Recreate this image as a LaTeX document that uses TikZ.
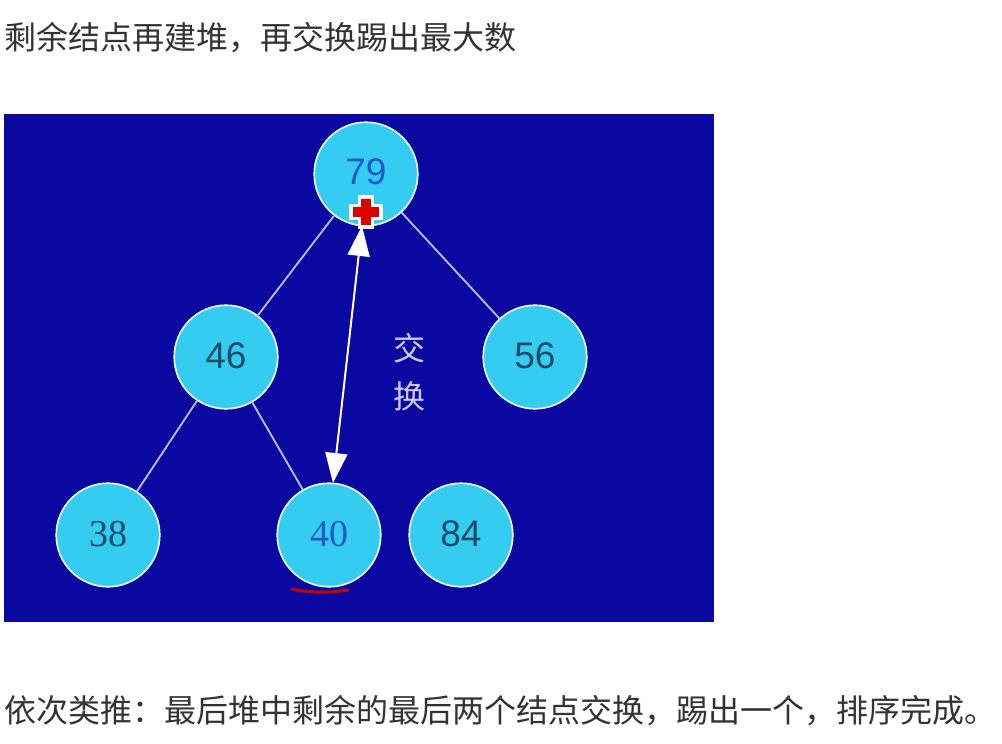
\documentclass[tikz,border=0pt]{standalone}
\usepackage{fontspec}
\setmainfont{Liberation Serif}
\newfontfamily\cjk{Noto Sans CJK SC}
\newfontfamily\numsans{Liberation Sans}
\usetikzlibrary{arrows.meta}
\definecolor{bgblue}{RGB}{10,8,160}
\definecolor{ball}{RGB}{52,204,240}
\definecolor{edgecol}{RGB}{190,190,255}
\definecolor{numteal}{RGB}{22,75,105}
\definecolor{numblue}{RGB}{30,90,200}
\definecolor{txtgray}{RGB}{51,51,51}
\definecolor{crossred}{RGB}{220,0,0}
\begin{document}
\begin{tikzpicture}[x=1pt,y=-1pt,
  heapnode/.style={circle,fill=ball,draw=white!85!ball,line width=1.2pt,minimum size=104pt,inner sep=0pt},
  treeedge/.style={draw=edgecol,line width=1.8pt},
  caption/.style={anchor=west,inner sep=0pt,text=txtgray,font=\cjk\fontsize{32}{36}\selectfont},
  swaplabel/.style={text=edgecol!80!white,font=\cjk\fontsize{32}{34}\selectfont,inner sep=0pt},
  sansnum/.style={font=\numsans\fontsize{37}{38}\selectfont},
  serifnum/.style={font=\fontsize{38}{40}\selectfont}]
\useasboundingbox (0,0) rectangle (1002,744);
\fill[white] (0,0) rectangle (1002,744);
\node[caption] (top) at (4,38) {剩余结点再建堆，再交换踢出最大数};
\node[caption] (bottom) at (4,711) {依次类推：最后堆中剩余的最后两个结点交换，踢出一个，排序完成。};
\fill[bgblue] (4,114) rectangle (714,622);
\node[heapnode] (n79) at (366,174) {};
\node[heapnode] (n46) at (226,357) {};
\node[heapnode] (n56) at (535,357) {};
\node[heapnode] (n38) at (108,535) {};
\node[heapnode] (n40) at (329,535) {};
\node[heapnode] (n84) at (461,535) {};
\draw[treeedge] (n79) -- (n46);
\draw[treeedge] (n79) -- (n56);
\draw[treeedge] (n46) -- (n38);
\draw[treeedge] (n46) -- (n40);
\foreach \n in {n79,n46,n56,n38,n40,n84}{\fill[ball] (\n) circle (51.5pt);}
\node[text=numblue,sansnum] (t79) at (366,172) {79};
\node[text=numteal,sansnum] (t46) at (226,356) {46};
\node[text=numteal,sansnum] (t56) at (535,356) {56};
\node[text=numteal,serifnum] (t38) at (108,534) {38};
\node[text=numblue,serifnum] (t40) at (329,534) {40};
\node[text=numteal,sansnum] (t84) at (461,534) {84};
\foreach \n in {n79,n46,n56,n38,n40,n84}{\draw[white!85!ball,line width=1.2pt] (\n) circle (51.5pt);}
\node[swaplabel] (jiao) at (409,348) {交};
\node[swaplabel] (huan) at (409,396) {换};
\coordinate (atop) at (362,226);
\coordinate (abot) at (333,483);
\draw[white,line width=2pt,{Triangle[length=30pt,width=22pt]}-{Triangle[length=30pt,width=22pt]}] (atop) -- (abot);
\coordinate (cross) at (366,212);
\fill[white] ([xshift=-8pt,yshift=-17pt]cross) rectangle ([xshift=8pt,yshift=17pt]cross);
\fill[white] ([xshift=-17pt,yshift=-8pt]cross) rectangle ([xshift=17pt,yshift=8pt]cross);
\fill[crossred] ([xshift=-5pt,yshift=-13pt]cross) rectangle ([xshift=5pt,yshift=13pt]cross);
\fill[crossred] ([xshift=-13pt,yshift=-5pt]cross) rectangle ([xshift=13pt,yshift=5pt]cross);
\coordinate (ulA) at (292,589);
\coordinate (ulB) at (348,590);
\draw[red!80!black,line width=3pt,line cap=round] (ulA) .. controls (310,593) and (330,593) .. (ulB);
\end{tikzpicture}
\end{document}
